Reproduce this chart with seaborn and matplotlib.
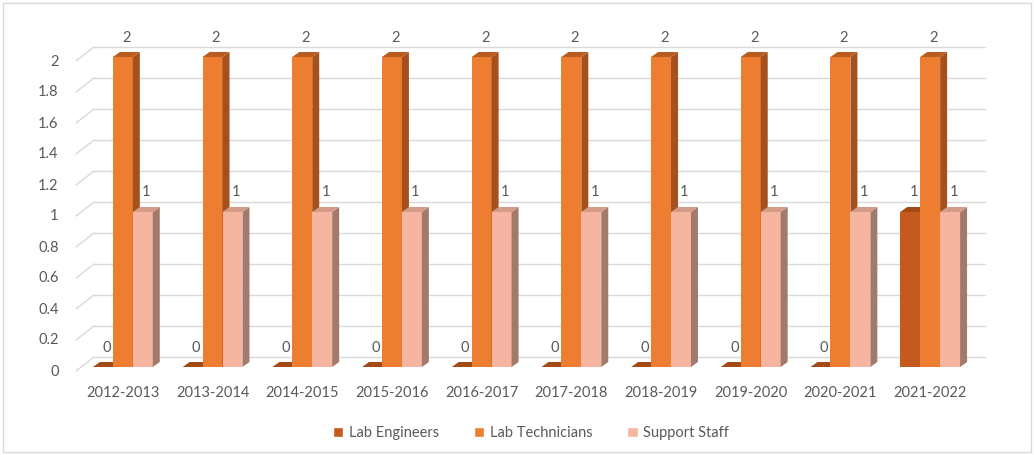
import matplotlib
matplotlib.use("Agg")
import matplotlib.pyplot as plt
import matplotlib.transforms as mtransforms
from matplotlib.patches import Polygon, Rectangle, Patch
import numpy as np
import pandas as pd
import seaborn as sns

# ---- data ----
years = ["2012-2013", "2013-2014", "2014-2015", "2015-2016", "2016-2017",
         "2017-2018", "2018-2019", "2019-2020", "2020-2021", "2021-2022"]
lab_engineers = [0, 0, 0, 0, 0, 0, 0, 0, 0, 1]
lab_technicians = [2, 2, 2, 2, 2, 2, 2, 2, 2, 2]
support_staff = [1, 1, 1, 1, 1, 1, 1, 1, 1, 1]
series_names = ["Lab Engineers", "Lab Technicians", "Support Staff"]
y_ticks = [0, 0.2, 0.4, 0.6, 0.8, 1, 1.2, 1.4, 1.6, 1.8, 2]

front_colors = ["#C55A1E", "#ED7D31", "#F5B5A0"]
side_colors = ["#8E3F12", "#A4511D", "#A27A6C"]
top_colors = ["#A34A15", "#B85C20", "#D49C88"]
text_color = "#595959"
grid_color = "#D9D9D9"

df = pd.DataFrame({
    "year": years * 3,
    "series": sum([[s] * len(years) for s in series_names], []),
    "value": lab_engineers + lab_technicians + support_staff,
})

sns.set_theme(style="white")
plt.rcParams["font.family"] = ["Lato", "DejaVu Sans"]

W, H, DPI = 1034, 455, 100
fig = plt.figure(figsize=(W / DPI, H / DPI), dpi=DPI)
ax = fig.add_axes([78 / W, 1 - 367 / H, (975 - 78) / W, (367 - 57) / H])

sns.barplot(data=df, x="year", y="value", hue="series", order=years,
            hue_order=series_names, palette=front_colors, width=0.667,
            saturation=1, ax=ax, legend=False, linewidth=0)

ax.set_xlim(-0.5, len(years) - 0.5)
ax.set_ylim(0, 2)
for s in ax.spines.values():
    s.set_visible(False)
ax.set_xlabel("")
ax.set_ylabel("")

# depth of the 3-D bars, in pixels
DX, DY = 7, 5
px = lambda v: v / DPI  # pixels -> inches
ax_w_px = 975 - 78

# back-wall gridlines, shifted up and right to sit behind the bars
back = mtransforms.ScaledTranslation(0, px(10), fig.dpi_scale_trans)
for t in y_ticks:
    ax.plot([16 / ax_w_px, 1 + 10 / ax_w_px], [t, t],
            transform=ax.get_yaxis_transform() + back,
            color=grid_color, lw=1, zorder=0, clip_on=False)

# short floor diagonals joining the tick labels to the back wall
to_disp = ax.get_yaxis_transform()
for t in y_ticks:
    x0, y0 = to_disp.transform((0, t))
    pts = np.array([[x0 - 2, y0 - 4], [x0 + 16, y0 + 10]])
    ax.plot(pts[:, 0], pts[:, 1], transform=None, color=grid_color,
            lw=1, zorder=0, clip_on=False)

ax.set_yticks(y_ticks)
ax.set_yticklabels([f"{t:g}" for t in y_ticks])
ax.tick_params(axis="y", length=0, pad=14, labelsize=10.5, labelcolor=text_color)
ax.tick_params(axis="x", length=0, pad=14, labelsize=10.5, labelcolor=text_color)
down = mtransforms.ScaledTranslation(0, -px(3), fig.dpi_scale_trans)
for lab in ax.get_yticklabels():
    lab.set_transform(lab.get_transform() + down)

# 3-D faces for every bar, computed from the drawn rectangles
bars = [p for p in ax.patches if isinstance(p, Rectangle)]
n = len(years)
values_by_series = [lab_engineers, lab_technicians, support_staff]
order = sorted(range(len(bars)), key=lambda i: bars[i].get_x())
inv = ax.transData.inverted()
for rank, i in enumerate(order):
    b = bars[i]
    s_idx = i // n
    z = 3 + rank
    b.set_zorder(z)
    x, w, h = b.get_x(), b.get_width(), b.get_height()
    (xl, yb), (xr, yt) = ax.transData.transform([(x, 0), (x + w, h)])
    side = [(xr, yb), (xr + DX, yb + DY), (xr + DX, yt + DY), (xr, yt)]
    top = [(xl, yt), (xr, yt), (xr + DX, yt + DY), (xl + DX, yt + DY)]
    ax.add_patch(Polygon(inv.transform(side), closed=True, lw=0,
                         facecolor=side_colors[s_idx], zorder=z + 0.5, clip_on=False))
    ax.add_patch(Polygon(inv.transform(top), closed=True, lw=0,
                         facecolor=top_colors[s_idx], zorder=z + 0.5, clip_on=False))
    val = values_by_series[s_idx][i % n]
    ax.annotate(f"{val:g}", (x + w / 2, h), xytext=(DX / 2 / 1.389, 9),
                textcoords="offset points", ha="center", va="bottom",
                fontsize=10.5, color=text_color, zorder=50, annotation_clip=False)

# legend
handles = [Patch(facecolor=c, label=s) for c, s in zip(front_colors, series_names)]
fig.legend(handles=handles, loc="center", bbox_to_anchor=(531 / W, 1 - 433 / H), ncol=3,
           frameon=False, fontsize=10.5, handlelength=0.7, handleheight=0.7,
           handletextpad=0.4, columnspacing=2.4, labelcolor=text_color)

# outer chart border
fig.add_artist(Rectangle((3 / W, 3 / H), 1 - 6 / W, 1 - 6 / H, transform=fig.transFigure,
                         fill=False, edgecolor="#D9D9D9", lw=1))

fig.savefig("out.png", dpi=DPI, facecolor="white")
